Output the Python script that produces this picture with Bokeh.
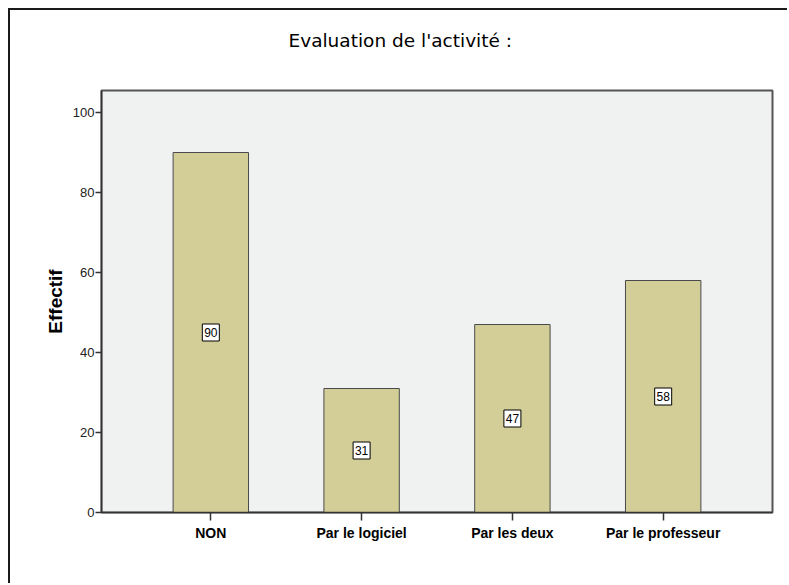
from bokeh.plotting import figure
from bokeh.models import ColumnDataSource, Range1d, FactorRange, Title
from bokeh.core.properties import value
from bokeh.embed import file_html
from bokeh.resources import INLINE

categories = ["NON", "Par le logiciel", "Par les deux", "Par le professeur"]
counts = [90, 31, 47, 58]
y_ticks = [0, 20, 40, 60, 80, 100]
title_text = "Evaluation de l'activité :"

FONT = "Liberation Sans"

src = ColumnDataSource(data=dict(
    cat=categories,
    val=counts,
    mid=[v / 2 for v in counts],
    lab=[str(v) for v in counts],
))

p = figure(
    x_range=FactorRange(factors=categories, range_padding=0.1125, range_padding_units="percent"),
    y_range=Range1d(0, 105.5),
    width=779, height=575,
    output_backend="svg", toolbar_location=None,
    min_border_left=91, min_border_top=80, min_border_right=17, min_border_bottom=73,
)
p.styles = {"border-left": "2px solid #1a1a1a", "border-top": "2px solid #1a1a1a",
            "margin-left": "8px", "margin-top": "8px"}

# spacer panel between the frame and the title (first "above" item sits nearest the frame)
spacer = Title(text=" ", text_font="DejaVu Sans", text_font_size="18.5px", standoff=17)
p.add_layout(spacer, "above")
main_title = Title(text=title_text, text_font="DejaVu Sans", text_font_size="18.5px",
                   text_font_style="normal", align="left", offset=187, standoff=0,
                   text_color="#000000")
p.add_layout(main_title, "above")

p.background_fill_color = "#F0F1F1"
p.border_fill_color = "white"
p.outline_line_color = "#555555"
p.outline_line_width = 2

p.xgrid.visible = False
p.ygrid.visible = False

p.vbar(x="cat", top="val", width=0.5, source=src,
       fill_color="#D3CE97", line_color="#4a4a4a", line_width=1)

p.rect(x="cat", y="mid", width=17, height=17, width_units="screen", height_units="screen",
       source=src, fill_color="white", line_color="black", line_width=1)
p.text(x="cat", y="mid", text="lab", source=src,
       text_align="center", text_baseline="middle",
       text_font=value(FONT), text_font_size="12px", text_color="black")

p.yaxis.ticker = y_ticks
p.yaxis.minor_tick_line_color = None
p.yaxis.major_tick_in = 0
p.yaxis.major_tick_out = 6
p.yaxis.major_label_standoff = 1
p.yaxis.major_label_text_font = FONT
p.yaxis.major_label_text_font_size = "13px"
p.yaxis.major_label_text_color = "#222222"
p.yaxis.axis_label = "Effectif"
p.yaxis.axis_label_text_font = FONT
p.yaxis.axis_label_text_font_size = "19px"
p.yaxis.axis_label_text_font_style = "bold"
p.yaxis.axis_label_text_color = "#000000"
p.yaxis.axis_label_standoff = 4
p.yaxis.axis_line_color = "#333333"
p.yaxis.axis_line_width = 1.5
p.yaxis.major_tick_line_color = "#333333"
p.yaxis.major_tick_line_width = 1.5

p.xaxis.major_tick_in = 0
p.xaxis.major_tick_out = 8
p.xaxis.major_label_standoff = 4
p.xaxis.major_label_text_font = FONT
p.xaxis.major_label_text_font_size = "14px"
p.xaxis.major_label_text_font_style = "bold"
p.xaxis.major_label_text_color = "#000000"
p.xaxis.axis_line_color = "#333333"
p.xaxis.axis_line_width = 1.5
p.xaxis.major_tick_line_color = "#333333"
p.xaxis.major_tick_line_width = 1.5

open("out.html", "w").write(file_html(p, INLINE))
